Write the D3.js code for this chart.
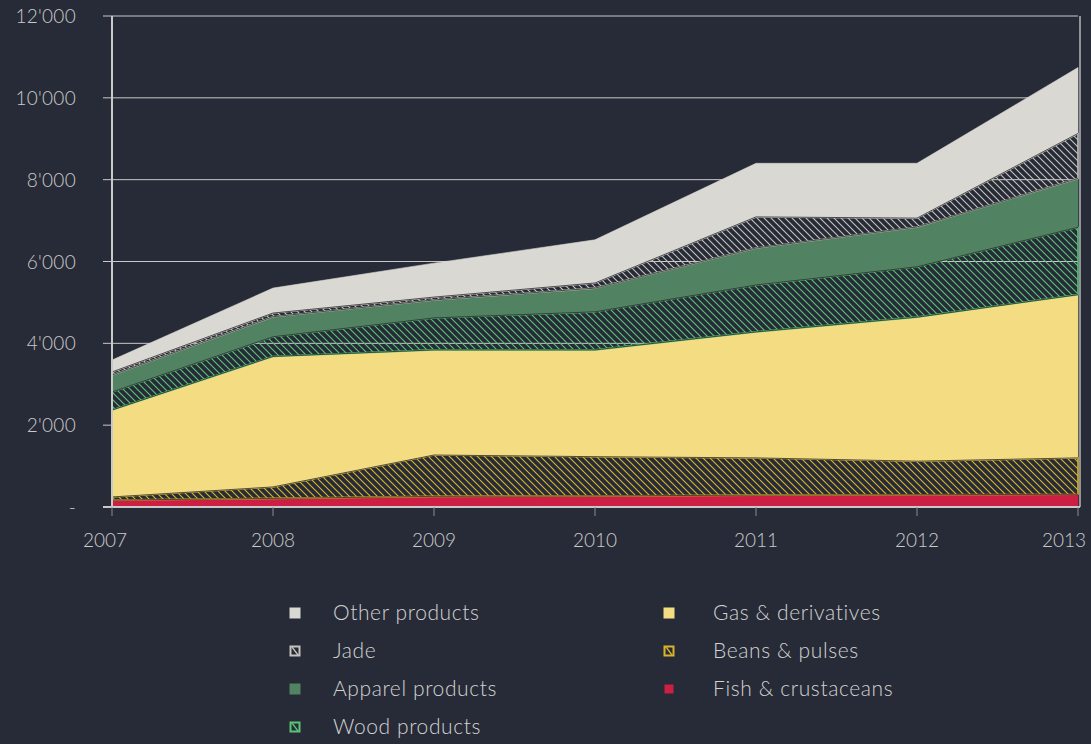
<!DOCTYPE html>
<html>
<head>
<meta charset="utf-8">
<script src="https://cdn.jsdelivr.net/npm/d3@7"></script>
<style>
  html, body { margin: 0; padding: 0; background: #272b37; }
  svg { display: block; }
  text { font-family: Lato, "Open Sans", sans-serif; font-weight: 300; }
</style>
</head>
<body>
<svg id="chart" width="1091" height="744"></svg>
<script>
// data (bottom of the stack first)
var years = [2007, 2008, 2009, 2010, 2011, 2012, 2013];
var fish    = [170, 210, 260, 270, 290, 300, 310];
var beans   = [75, 280, 1010, 960, 910, 820, 890];
var gas     = [2125, 3190, 2570, 2610, 3080, 3520, 3990];
var wood    = [440, 480, 780, 930, 1145, 1230, 1645];
var apparel = [415, 490, 440, 580, 905, 975, 1195];
var jade    = [75, 90, 70, 125, 760, 215, 1100];
var other   = [290, 610, 830, 1055, 1310, 1340, 1610];
var yTicks  = [0, 2000, 4000, 6000, 8000, 10000, 12000];

var series = [
  {key: "fish",    name: "Fish & crustaceans", values: fish,    color: "#cc1f43", hatch: false},
  {key: "beans",   name: "Beans & pulses",     values: beans,   color: "#d8b42a", hatch: true},
  {key: "gas",     name: "Gas & derivatives",  values: gas,     color: "#f3dc82", hatch: false},
  {key: "wood",    name: "Wood products",      values: wood,    color: "#58c478", hatch: true},
  {key: "apparel", name: "Apparel products",   values: apparel, color: "#518261", hatch: false},
  {key: "jade",    name: "Jade",               values: jade,    color: "#c4c3bd", hatch: true},
  {key: "other",   name: "Other products",     values: other,   color: "#d9d8d3", hatch: false}
];
var legendCols = [
  ["other", "jade", "apparel", "wood"],
  ["gas", "beans", "fish"]
];

var svg = d3.select("#chart");
var defs = svg.append("defs");

var x = d3.scaleLinear().domain([2007, 2013]).range([112, 1078]);
var y = d3.scaleLinear().domain([0, 12000]).range([507, 16]);

var table = years.map(function(yr, i) {
  var row = {year: yr};
  series.forEach(function(s) { row[s.key] = s.values[i]; });
  return row;
});
var stacked = d3.stack().keys(series.map(function(s) { return s.key; }))(table);

// hatch patterns
series.filter(function(s) { return s.hatch; }).forEach(function(s) {
  var p = defs.append("pattern")
    .attr("id", "hatch-" + s.key)
    .attr("patternUnits", "userSpaceOnUse")
    .attr("width", 7)
    .attr("height", 7);
  p.append("path")
    .attr("d", "M0,0 L7,7 M-1,6 L1,8 M6,-1 L8,1")
    .attr("stroke", s.color)
    .attr("stroke-width", 1.1)
    .attr("fill", "none");
});

// gridlines behind everything
svg.append("g").selectAll("line")
  .data(yTicks.filter(function(d) { return d > 0; }))
  .join("line")
    .attr("x1", x(2007)).attr("x2", x(2013))
    .attr("y1", function(d) { return y(d); })
    .attr("y2", function(d) { return y(d); })
    .attr("stroke", "#c9c9c9")
    .attr("stroke-width", 1);

var area = d3.area()
  .x(function(d) { return x(d.data.year); })
  .y0(function(d) { return y(d[0]); })
  .y1(function(d) { return y(d[1]); });

var topLine = d3.line()
  .x(function(d) { return x(d.data.year); })
  .y(function(d) { return y(d[1]); });

var gAreas = svg.append("g");
stacked.forEach(function(layer, i) {
  var s = series[i];
  gAreas.append("path")
    .attr("d", area(layer))
    .attr("fill", s.hatch ? "url(#hatch-" + s.key + ")" : s.color)
    .attr("stroke", s.color)
    .attr("stroke-width", s.hatch ? 1.6 : 0.6)
    .attr("stroke-linejoin", "round");
});
stacked.forEach(function(layer, i) {
  if (i == stacked.length - 1) return;
  gAreas.append("path")
    .attr("d", topLine(layer))
    .attr("fill", "none")
    .attr("stroke", "#2b2b2b")
    .attr("stroke-opacity", 0.8)
    .attr("stroke-width", 1);
});

// y axis
var gy = svg.append("g");
gy.append("line")
  .attr("x1", x(2007)).attr("x2", x(2007))
  .attr("y1", y(12000)).attr("y2", y(0))
  .attr("stroke", "#c9c9c9").attr("stroke-width", 2);
gy.selectAll("line.tick")
  .data(yTicks)
  .join("line")
    .attr("class", "tick")
    .attr("x1", x(2007) - 9).attr("x2", x(2007))
    .attr("y1", function(d) { return y(d); })
    .attr("y2", function(d) { return y(d); })
    .attr("stroke", "#c9c9c9");
gy.selectAll("text")
  .data(yTicks)
  .join("text")
    .attr("x", 76)
    .attr("y", function(d) { return y(d) + 7; })
    .attr("text-anchor", "end")
    .attr("fill", "#cacaca")
    .attr("font-size", 19)
    .attr("letter-spacing", 0.3)
    .text(function(d) { return d == 0 ? "-" : d3.format(",")(d).replace(",", "'"); });

// right frame line
svg.append("line")
  .attr("x1", x(2013) + 2).attr("x2", x(2013) + 2)
  .attr("y1", y(12000)).attr("y2", y(0))
  .attr("stroke", "#b8b8b8").attr("stroke-width", 1.5);

// x axis
var gx = svg.append("g");
gx.append("line")
  .attr("x1", x(2007) - 9).attr("x2", x(2013) + 2)
  .attr("y1", y(0)).attr("y2", y(0))
  .attr("stroke", "#c9c9c9").attr("stroke-width", 2);
gx.selectAll("line.tick")
  .data(years)
  .join("line")
    .attr("class", "tick")
    .attr("x1", function(d) { return x(d); })
    .attr("x2", function(d) { return x(d); })
    .attr("y1", y(0)).attr("y2", y(0) + 9)
    .attr("stroke", "#8a8c93");
gx.selectAll("text")
  .data(years)
  .join("text")
    .attr("x", function(d) { return x(d); })
    .attr("dx", function(d, i) { return i == 0 ? -7 : (i == years.length - 1 ? -14 : 0); })
    .attr("y", 547)
    .attr("text-anchor", "middle")
    .attr("fill", "#cacaca")
    .attr("font-size", 19)
    .text(function(d) { return d; });

// legend
var byKey = {};
series.forEach(function(s) { byKey[s.key] = s; });
var colX = [295, 669];
var textX = [333, 713];
legendCols.forEach(function(col, c) {
  col.forEach(function(key, r) {
    var s = byKey[key];
    var cy = 613 + r * 38;
    var g = svg.append("g");
    var size = key == "fish" ? 9 : 11;
    if (s.hatch) {
      g.append("rect")
        .attr("x", colX[c] - size / 2).attr("y", cy - size / 2)
        .attr("width", size).attr("height", size)
        .attr("fill", "#272b37");
      g.append("path")
        .attr("d", "M" + (colX[c] - 3) + "," + (cy - 4) + " L" + (colX[c] + 3) + "," + (cy + 4))
        .attr("stroke", s.color).attr("stroke-width", 1.3);
      g.append("rect")
        .attr("x", colX[c] - size / 2 + 1).attr("y", cy - size / 2 + 1)
        .attr("width", size - 2).attr("height", size - 2)
        .attr("fill", "none")
        .attr("stroke", s.color).attr("stroke-width", 2);
    } else {
      g.append("rect")
        .attr("x", colX[c] - size / 2).attr("y", cy - size / 2)
        .attr("width", size).attr("height", size)
        .attr("fill", s.color);
    }
    g.append("text")
      .attr("x", textX[c])
      .attr("y", cy + 7)
      .attr("fill", "#d2d2d2")
      .attr("font-size", 21)
      .attr("letter-spacing", 0.6)
      .text(s.name);
  });
});
</script>
</body>
</html>
